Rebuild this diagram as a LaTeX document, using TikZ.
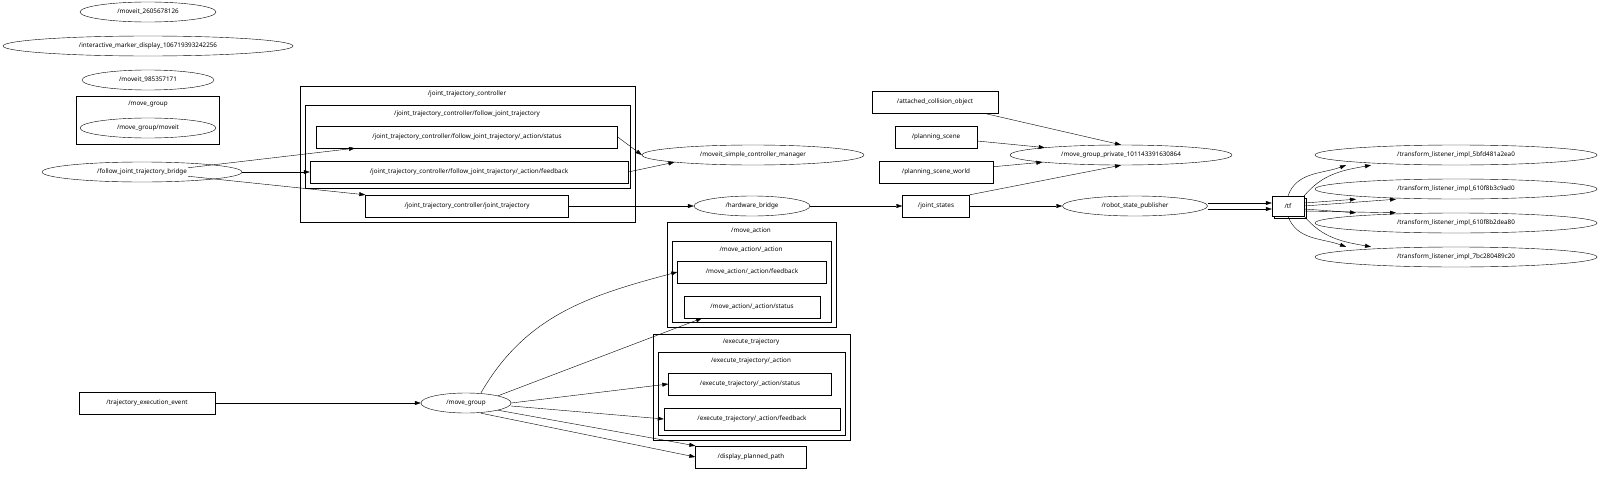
\documentclass[tikz,border=0pt]{standalone}
\usepackage{fontspec}
\setmainfont{Noto Sans}
\usetikzlibrary{arrows.meta,shapes.geometric,shadows}

\begin{document}
\begin{tikzpicture} [
x=1pt, y=-1pt,
font=\fontsize{6.3}{7}\selectfont,
rosnode/.style  = { ellipse, draw=black, inner sep=0pt, minimum height=20pt },
topic/.style    = { rectangle, draw=black, inner sep=0pt, minimum height=22pt },
cluster/.style  = { draw=black },
line/.style     = { draw, -{Triangle[length=6pt,width=4pt]} },
]
\useasboundingbox (0,0) rectangle (1600,479);

% clusters
\draw[cluster] (76,96) rectangle (219,144);
\node at (148,104) {/move\_group};
\draw[cluster] (300,86) rectangle (635,222);
\node at (467,94) {/joint\_trajectory\_controller};
\draw[cluster] (305,105) rectangle (630,188);
\node at (467,114) {/joint\_trajectory\_controller/follow\_joint\_trajectory};
\draw[cluster] (667,222) rectangle (836,327);
\node at (751,231) {/move\_action};
\draw[cluster] (672,241) rectangle (831,322);
\node at (751,250) {/move\_action/\_action};
\draw[cluster] (653,334) rectangle (850,440);
\node at (751,342) {/execute\_trajectory};
\draw[cluster] (658,352) rectangle (845,435);
\node at (751,361) {/execute\_trajectory/\_action};

% nodes
\node[rosnode, minimum width=136pt] (moveit1) at (148,12) {/moveit\_2605678126};
\node[rosnode, minimum width=290pt] (imd) at (148,46) {/interactive\_marker\_display\_106719393242256};
\node[rosnode, minimum width=132pt] (moveit2) at (148,80) {/moveit\_985357171};
\node[rosnode, minimum width=136pt] (mgmoveit) at (148,128) {/move\_group/moveit};
\node[rosnode, minimum width=200pt] (bridge) at (142,172) {/follow\_joint\_trajectory\_bridge};
\node[topic, minimum width=301pt] (jstatus) at (467,137) {/joint\_trajectory\_controller/follow\_joint\_trajectory/\_action/status};
\node[topic, minimum width=318pt] (jfeed) at (469,172) {/joint\_trajectory\_controller/follow\_joint\_trajectory/\_action/feedback};
\node[topic, minimum width=203pt] (jtraj) at (467,206) {/joint\_trajectory\_controller/joint\_trajectory};
\node[rosnode, minimum width=222pt] (manager) at (753,155) {/moveit\_simple\_controller\_manager};
\node[rosnode, minimum width=116pt] (hwbridge) at (752,206) {/hardware\_bridge};
\node[topic, minimum width=67pt] (jstates) at (936,206) {/joint\_states};
\node[topic, minimum width=126pt] (attached) at (935,102) {/attached\_collision\_object};
\node[topic, minimum width=82pt] (pscene) at (936,137) {/planning\_scene};
\node[topic, minimum width=114pt] (pworld) at (936,172) {/planning\_scene\_world};
\node[rosnode, minimum width=222pt] (private) at (1121,155) {/move\_group\_private\_101143391630864};
\node[rosnode, minimum width=145pt] (rsp) at (1135,206) {/robot\_state\_publisher};
\node[topic, minimum width=32pt, minimum height=20pt, fill=white,
  copy shadow={shadow xshift=2pt, shadow yshift=-2pt, draw=black, fill=white}] (tf) at (1288,206) {/tf};
\node[rosnode, minimum width=282pt] (tl1) at (1456,155) {/transform\_listener\_impl\_5bfd481a2ea0};
\node[rosnode, minimum width=282pt] (tl2) at (1456,189) {/transform\_listener\_impl\_610f8b3c9ad0};
\node[rosnode, minimum width=282pt] (tl3) at (1456,223) {/transform\_listener\_impl\_610f8b2dea80};
\node[rosnode, minimum width=282pt] (tl4) at (1456,257) {/transform\_listener\_impl\_7bc280489c20};
\node[topic, minimum width=149pt] (mafeed) at (752,272) {/move\_action/\_action/feedback};
\node[topic, minimum width=136pt] (mastatus) at (752,307) {/move\_action/\_action/status};
\node[topic, minimum width=163pt] (exstatus) at (750,384) {/execute\_trajectory/\_action/status};
\node[topic, minimum width=176pt] (exfeed) at (752,419) {/execute\_trajectory/\_action/feedback};
\node[topic, minimum width=136pt] (tee) at (147,403) {/trajectory\_execution\_event};
\node[rosnode, minimum width=90pt] (movegroup) at (466,403) {/move\_group};
\node[topic, minimum width=111pt] (dpp) at (751,457) {/display\_planned\_path};

% edges
\begin{scope} [every path/.style=line]
\path (bridge.north east) ++(-25,3) coordinate (b1) -- (jstatus.south west -| 355,148);
\path (bridge) -- (jfeed);
\path (bridge.south east) ++(-25,-3) coordinate (b2) -- (jtraj.north west);
\path (jstatus.east) -- (manager.west);
\path (jfeed.east) -- (manager.south west);
\path (jtraj) -- (hwbridge);
\path (hwbridge) -- (jstates);
\path (attached) -- (private.north);
\path (pscene) -- (private);
\path (pworld) -- (private.south west);
\path (jstates.north east) -- (private.south);
\path (jstates) -- (rsp);
\path ([yshift=3pt]rsp.east) -- ([yshift=3pt]tf.west);
\path ([yshift=-3pt]rsp.east) -- ([yshift=-3pt]tf.west);
\path (tf.north) to[out=70,in=200] ([xshift=-110pt]tl1.south);
\path (tf.north east) to[out=50,in=190] ([xshift=-85pt]tl1.south);
\path ([yshift=3pt]tf.east) -- ([xshift=-100pt]tl2.south);
\path (tf.east) -- ([xshift=-60pt]tl2.south);
\path ([yshift=-3pt]tf.east) -- ([xshift=-100pt]tl3.north);
\path ([yshift=-5pt]tf.east) -- ([xshift=-60pt]tl3.north);
\path (tf.south) to[out=-70,in=160] ([xshift=-110pt]tl4.north);
\path (tf.south east) to[out=-50,in=170] ([xshift=-85pt]tl4.north);
\path (tee) -- (movegroup);
\path ([xshift=15pt]movegroup.north) to[out=60,in=195] (mafeed.west);
\path (movegroup.north east) -- ([xshift=-50pt]mastatus.south);
\path (movegroup.east) -- (exstatus.west);
\path ([yshift=-3pt]movegroup.east) -- (exfeed.west);
\path (movegroup.south east) -- (dpp.north west);
\path ([xshift=15pt]movegroup.south) -- (dpp.west);
\end{scope}

\end{tikzpicture}
\end{document}
